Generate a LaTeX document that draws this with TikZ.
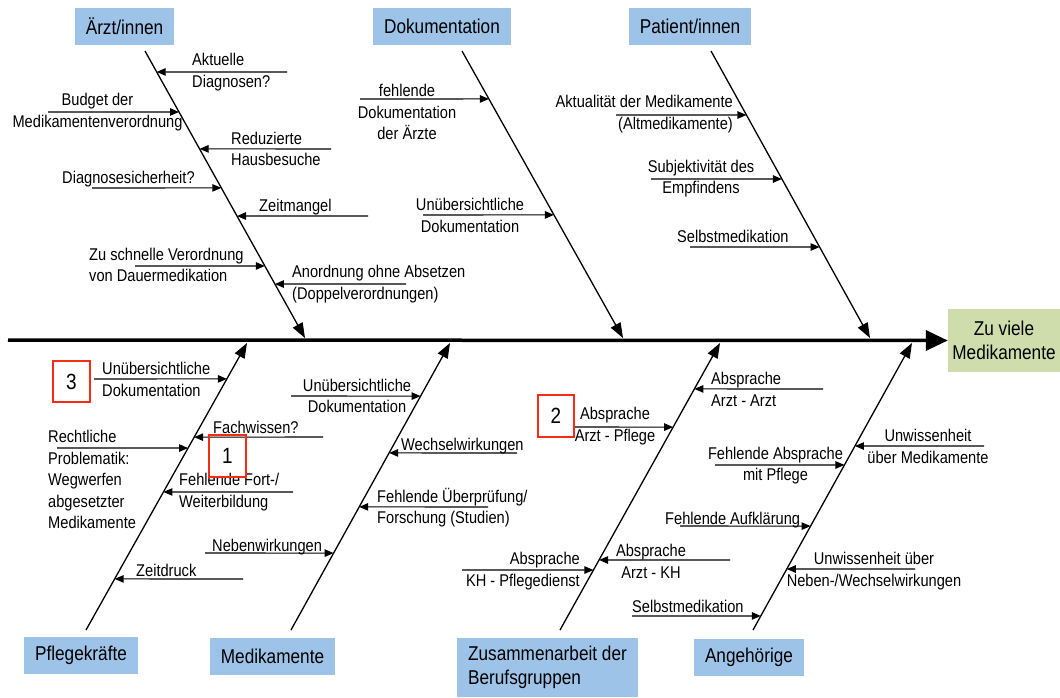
\documentclass[tikz,border=0pt]{standalone}
\usepackage{fontspec}
\setmainfont[FakeStretch=0.86]{Liberation Sans}
\usetikzlibrary{arrows.meta, calc}
\definecolor{boxblue}{RGB}{157,195,232}
\definecolor{boxgreen}{RGB}{207,221,172}
\definecolor{markred}{RGB}{245,45,20}

\begin{document}
\begin{tikzpicture}[
  x=1pt, y=-1pt,
  every node/.style={font=\fontsize{17}{21.5}\selectfont, inner sep=0pt},
  category/.style={rectangle, fill=boxblue, font=\fontsize{20}{24}\selectfont, minimum height=37pt},
  effect/.style={rectangle, fill=boxgreen, font=\fontsize{20}{24}\selectfont, align=center, minimum width=112pt, minimum height=63pt},
  marker/.style={rectangle, draw=markred, line width=2.2pt, font=\fontsize{22}{26}\selectfont},
  spine/.style={line width=3.5pt, -{Triangle[length=22pt, width=20pt]}},
  bone/.style={line width=1.3pt, -{Triangle[length=15pt, width=11pt]}},
  cause/.style={line width=1.1pt, -{Triangle[length=9pt, width=7.5pt]}}
]
\useasboundingbox (0,0) rectangle (1060,697);

% Category boxes
\node[category, minimum width=99pt] (aerzte) at (124.5,26.5) {Ärzt/innen};
\node[category, minimum width=138pt] (doku) at (442,26.5) {Dokumentation};
\node[category, minimum width=122pt] (patient) at (690,26.5) {Patient/innen};
\node[category, minimum width=114pt] (pflege) at (81,655.5) {Pflegekräfte};
\node[category, minimum width=125pt] (medi) at (272.5,656.5) {Medikamente};
\node[category, minimum width=181pt, minimum height=59pt, align=left] (zusammen) at (547.5,667.5) {Zusammenarbeit der\\Berufsgruppen};
\node[category, minimum width=110pt] (angeh) at (749,657.5) {Angehörige};

% Effect and spine
\node[effect] (effekt) at (1004,340.5) {Zu viele\\Medikamente};
\draw[spine] (8,340) coordinate (tail) -- (effekt.west);

% Bones
\coordinate (aS) at (145,51);  \coordinate (aE) at (305,338);
\coordinate (dS) at (462,51);  \coordinate (dE) at (623,338);
\coordinate (pS) at (711,51);  \coordinate (pE) at (870,338);
\coordinate (fS) at (86,630);  \coordinate (fE) at (247,343);
\coordinate (mS) at (291,630); \coordinate (mE) at (450,343);
\coordinate (zS) at (560,630); \coordinate (zE) at (720,343);
\coordinate (gS) at (753,630); \coordinate (gE) at (912,343);
\draw[bone] (aS) -- (aE);
\draw[bone] (dS) -- (dE);
\draw[bone] (pS) -- (pE);
\draw[bone] (fS) -- (fE);
\draw[bone] (mS) -- (mE);
\draw[bone] (zS) -- (zE);
\draw[bone] (gS) -- (gE);

% Ärzt/innen
\node[anchor=west, align=left] (a1) at (192,72) {Aktuelle\\Diagnosen?};
\draw[cause] (287,72) -- ($(aS)!.073!(aE)$);
\node[align=center] (a2) at (97.5,112) {Budget der\\Medikamentenverordnung};
\draw[cause] (48,112) -- ($(aS)!.2125!(aE)$);
\node[anchor=west, align=left] (a3) at (231,149) {Reduzierte\\Hausbesuche};
\draw[cause] (331,149) -- ($(aS)!.341!(aE)$);
\node[anchor=base west] (a4) at (62,183) {Diagnosesicherheit?};
\draw[cause] (92,188) -- ($(aS)!.477!(aE)$);
\node[anchor=base west] (a5) at (259,211) {Zeitmangel};
\draw[cause] (368,216) -- ($(aS)!.575!(aE)$);
\node[anchor=west, align=left] (a6) at (89,265) {Zu schnelle Verordnung\\von Dauermedikation};
\draw[cause] (135,266) -- ($(aS)!.749!(aE)$);
\node[anchor=west, align=left] (a7) at (292,284) {Anordnung ohne Absetzen\\(Doppelverordnungen)};
\draw[cause] (406,284) -- ($(aS)!.812!(aE)$);

% Dokumentation
\node[anchor=north, align=center] (d1) at (407,84) {fehlende\\Dokumentation\\der Ärzte};
\draw[cause] (360,99) -- ($(dS)!.167!(dE)$);
\node[align=center] (d2) at (470,215.5) {Unübersichtliche\\Dokumentation};
\draw[cause] (423,215) -- ($(dS)!.571!(dE)$);

% Patient/innen
\node[anchor=east, align=right] (p1) at (733,114) {Aktualität der Medikamente\\(Altmedikamente)};
\draw[cause] (616,115) -- ($(pS)!.223!(pE)$);
\node[align=center] (p2) at (701,178.5) {Subjektivität des\\Empfindens};
\draw[cause] (651,179) -- ($(pS)!.446!(pE)$);
\node[anchor=base west] (p3) at (677,242) {Selbstmedikation};
\draw[cause] (690,247) -- ($(pS)!.683!(pE)$);

% Pflegekräfte
\node[anchor=west, align=left] (f1) at (102,379.5) {Unübersichtliche\\Dokumentation};
\draw[cause] (94,379) -- ($(fS)!.875!(fE)$);
\node[anchor=base west] (f2) at (213,433) {Fachwissen?};
\draw[cause] (323,437) -- ($(fS)!.672!(fE)$);
\node[anchor=north west, align=left] (f3) at (48,430) {Rechtliche\\Problematik:\\Wegwerfen\\abgesetzter\\Medikamente};
\draw[cause] (57,448) -- ($(fS)!.634!(fE)$);
\node[anchor=west, align=left] (f4) at (179,492) {Fehlende Fort-/\\Weiterbildung};
\draw[cause] (293,492) -- ($(fS)!.481!(fE)$);
\node[anchor=base west] (f5) at (136,576) {Zeitdruck};
\draw[cause] (243,579) -- ($(fS)!.178!(fE)$);

% Medikamente
\node[anchor=base west] (m1) at (212,551) {Nebenwirkungen};
\draw[cause] (205,553) -- ($(mS)!.268!(mE)$);
\node[align=center] (m2) at (357,396) {Unübersichtliche\\Dokumentation};
\draw[cause] (291,396) -- ($(mS)!.815!(mE)$);
\node[anchor=base west] (m3) at (401,450) {Wechselwirkungen};
\draw[cause] (517,453) -- ($(mS)!.617!(mE)$);
\node[anchor=west, align=left] (m4) at (377,507.5) {Fehlende Überprüfung/\\Forschung (Studien)};
\draw[cause] (488,507) -- ($(mS)!.429!(mE)$);

% Zusammenarbeit der Berufsgruppen
\node[align=center] (z1) at (615,426) {Absprache\\Arzt - Pflege};
\draw[cause] (575,427) -- ($(zS)!.707!(zE)$);
\node[anchor=east, align=right] (z2) at (580,571) {Absprache\\KH - Pflegedienst};
\draw[cause] (462,570) -- ($(zS)!.209!(zE)$);
\node[align=center] (z3) at (651,561.5) {Absprache\\Arzt - KH};
\draw[cause] (730,560) -- ($(zS)!.244!(zE)$);
\node[anchor=west, align=left] (z4) at (711,389.5) {Absprache\\Arzt - Arzt};
\draw[cause] (823,389) -- ($(zS)!.840!(zE)$);

% Angehörige
\node[align=center] (g1) at (928,446.5) {Unwissenheit\\über Medikamente};
\draw[cause] (984,446) -- ($(gS)!.641!(gE)$);
\node[align=center] (g2) at (775.5,465.5) {Fehlende Absprache\\mit Pflege};
\draw[cause] (715,465) -- ($(gS)!.575!(gE)$);
\node[anchor=base west] (g3) at (665,524) {Fehlende Aufklärung};
\draw[cause] (680,526) -- ($(gS)!.362!(gE)$);
\node[align=center] (g4) at (874,571) {Unwissenheit über\\Neben-/Wechselwirkungen};
\draw[cause] (915,569) -- ($(gS)!.2125!(gE)$);
\node[anchor=base west] (g5) at (632,612) {Selbstmedikation};
\draw[cause] (632,616) -- ($(gS)!.049!(gE)$);

% Markers
\node[marker, minimum width=37pt, minimum height=41pt] (mark3) at (71.5,381.5) {3};
\node[marker, minimum width=37pt, minimum height=42pt] (mark1) at (227.5,456) {1};
\node[marker, minimum width=36pt, minimum height=42pt] (mark2) at (556,416) {2};

\end{tikzpicture}
\end{document}
